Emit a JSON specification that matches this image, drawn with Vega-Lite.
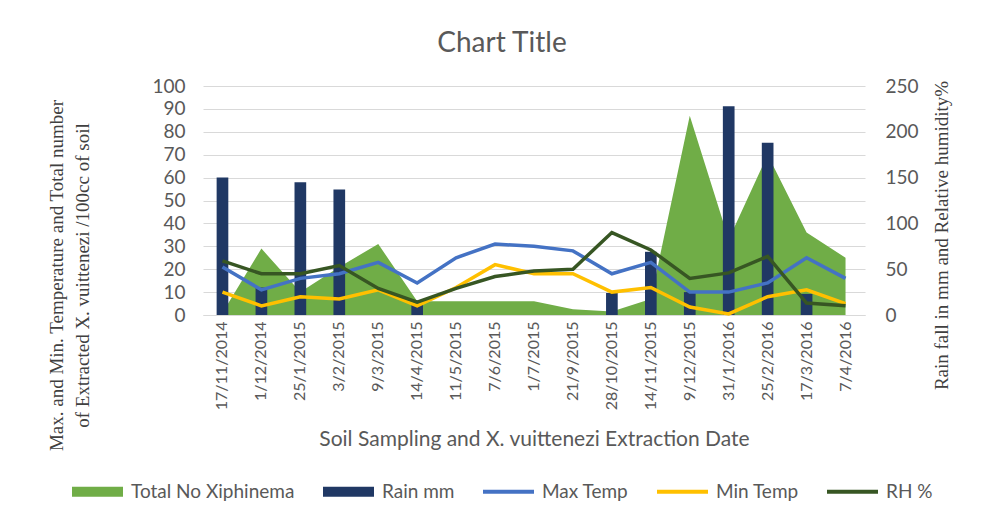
{
  "$schema": "https://vega.github.io/schema/vega-lite/v6.json",
  "autosize": "none",
  "padding": {"left": 203, "top": 86, "right": 123, "bottom": 201},
  "width": 662,
  "height": 229,
  "background": "white",
  "config": {
    "view": {"stroke": null},
    "font": "Lato",
    "axis": {"labelColor": "#595959", "titleColor": "#595959", "labelFont": "Lato", "titleFont": "Lato", "titleFontWeight": "normal"}
  },
  "title": {"text": "Chart Title", "fontSize": 28, "font": "Lato", "fontWeight": "normal", "color": "#595959", "anchor": "middle", "dx": -32, "offset": 19},
  "data": {"values": [
    {"date": "17/11/2014", "Xiphinema": 1, "Rain": 150, "Max Temp": 21, "Min Temp": 10, "RH": 59},
    {"date": "1/12/2014", "Xiphinema": 29, "Rain": 30, "Max Temp": 11, "Min Temp": 4, "RH": 45},
    {"date": "25/1/2015", "Xiphinema": 10, "Rain": 145, "Max Temp": 16, "Min Temp": 8, "RH": 45},
    {"date": "3/2/2015", "Xiphinema": 21, "Rain": 137, "Max Temp": 18, "Min Temp": 7, "RH": 54},
    {"date": "9/3/2015", "Xiphinema": 31, "Rain": 0, "Max Temp": 23, "Min Temp": 11, "RH": 29},
    {"date": "14/4/2015", "Xiphinema": 6, "Rain": 12, "Max Temp": 14, "Min Temp": 4, "RH": 14},
    {"date": "11/5/2015", "Xiphinema": 6, "Rain": 0, "Max Temp": 25, "Min Temp": 12, "RH": 29},
    {"date": "7/6/2015", "Xiphinema": 6, "Rain": 0, "Max Temp": 31, "Min Temp": 22, "RH": 42},
    {"date": "1/7/2015", "Xiphinema": 6, "Rain": 0, "Max Temp": 30, "Min Temp": 18, "RH": 48},
    {"date": "21/9/2015", "Xiphinema": 2.5, "Rain": 0, "Max Temp": 28, "Min Temp": 18, "RH": 50},
    {"date": "28/10/2015", "Xiphinema": 1.5, "Rain": 24, "Max Temp": 18, "Min Temp": 10, "RH": 90},
    {"date": "14/11/2015", "Xiphinema": 7, "Rain": 69, "Max Temp": 23, "Min Temp": 12, "RH": 71},
    {"date": "9/12/2015", "Xiphinema": 87, "Rain": 25, "Max Temp": 10, "Min Temp": 3.5, "RH": 40},
    {"date": "31/1/2016", "Xiphinema": 33, "Rain": 228, "Max Temp": 10, "Min Temp": 0.5, "RH": 46},
    {"date": "25/2/2016", "Xiphinema": 70, "Rain": 188, "Max Temp": 14, "Min Temp": 8, "RH": 64},
    {"date": "17/3/2016", "Xiphinema": 36, "Rain": 23, "Max Temp": 25, "Min Temp": 11, "RH": 13},
    {"date": "7/4/2016", "Xiphinema": 25, "Rain": 0, "Max Temp": 16, "Min Temp": 5, "RH": 10}
  ]},
  "encoding": {
    "x": {
      "field": "date", "type": "ordinal", "sort": null,
      "scale": {"paddingInner": 0.7, "paddingOuter": 0.35},
      "axis": {
        "title": "Soil Sampling and X. vuittenezi Extraction Date",
        "titleFontSize": 21, "titlePadding": 19,
        "labelAngle": -90, "labelFontSize": 16, "labelPadding": 6,
        "ticks": false, "domainColor": "#D9D9D9", "domainWidth": 1
      }
    }
  },
  "layer": [
    {
      "mark": {"type": "area", "color": "#70AD47", "opacity": 1},
      "encoding": {
        "y": {"field": "Xiphinema", "type": "quantitative", "scale": {"domain": [0, 100]},
          "axis": {"values": [0,10,20,30,40,50,60,70,80,90,100], "grid": true, "gridColor": "#D9D9D9", "domain": false, "ticks": false,
            "labelFontSize": 19, "labelPadding": 18,
            "title": ["Max. and Min. Temperature and Total number", "of Extracted X. vuittenezi /100cc of soil"],
            "titleFont": "Liberation Serif", "titleFontSize": 19, "titleColor": "#404040", "titleLineHeight": 26,
            "titleAngle": -90, "titleBaseline": "top", "titleX": -156, "titleY": 189}},
        "color": {"datum": "Total No Xiphinema", "type": "nominal"}
      }
    },
    {
      "mark": {"type": "bar", "color": "#203864"},
      "encoding": {
        "y": {"field": "Rain", "type": "quantitative", "scale": {"domain": [0, 250]},
          "axis": {"orient": "right", "values": [0,50,100,150,200,250], "grid": false, "domain": false, "ticks": false,
            "labelFontSize": 19, "labelPadding": 20,
            "title": "Rain fall in mm and Relative humidity%",
            "titleFont": "Liberation Sans Narrow", "titleFontSize": 19, "titleColor": "#404040",
            "titleAngle": -90, "titleBaseline": "middle", "titleX": 76, "titleY": 149}},
        "color": {"datum": "Rain mm", "type": "nominal"}
      }
    },
    {
      "transform": [{"fold": ["Max Temp", "Min Temp"], "as": ["series", "temp"]}],
      "mark": {"type": "line", "strokeWidth": 3.5},
      "encoding": {
        "y": {"field": "temp", "type": "quantitative", "scale": {"domain": [0, 100]}, "axis": null},
        "color": {"field": "series", "type": "nominal", "title": null}
      }
    },
    {
      "mark": {"type": "line", "strokeWidth": 3.5},
      "encoding": {
        "y": {"field": "RH", "type": "quantitative", "scale": {"domain": [0, 250]}, "axis": null},
        "color": {"datum": "RH %", "type": "nominal", "title": null,
          "scale": {"domain": ["Total No Xiphinema", "Rain mm", "Max Temp", "Min Temp", "RH %"], "range": ["#70AD47", "#203864", "#4472C4", "#FFC000", "#375623"]},
          "legend": {
            "title": null, "orient": "none", "direction": "horizontal", "legendX": -131, "legendY": 380,
            "columns": 5, "columnPadding": 28, "labelFontSize": 19, "labelColor": "#595959", "labelFont": "Lato", "labelLimit": 400,
            "symbolSize": 2601, "labelOffset": 8,
            "encode": {"symbols": {"update": {
              "shape": {"signal": "datum.value === 'Total No Xiphinema' || datum.value === 'Rain mm' ? 'M-1,-0.2H1V0.2H-1Z' : 'M-1,-0.075H1V0.075H-1Z'"},
              "fill": {"signal": "scale('color', datum.value)"},
              "stroke": {"value": null},
              "strokeWidth": {"value": 0},
              "opacity": {"value": 1}
            }}}
          }}
      }
    }
  ],
  "resolve": {"scale": {"y": "independent"}}
}
